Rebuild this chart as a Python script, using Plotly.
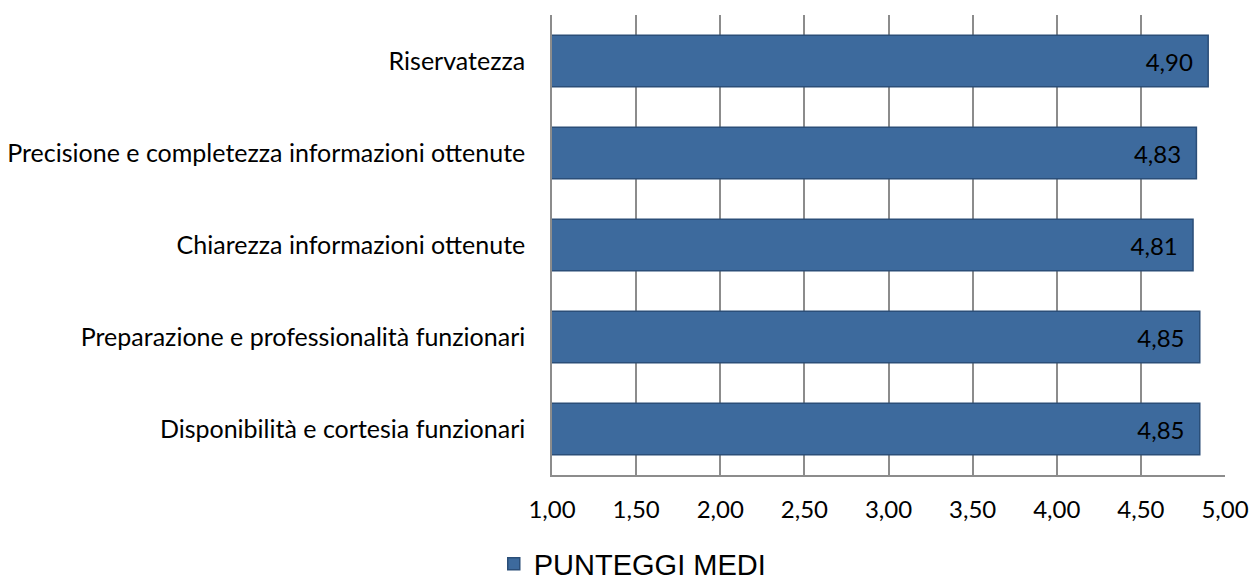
import plotly.graph_objects as go

categories = [
    "Riservatezza",
    "Precisione e completezza informazioni ottenute",
    "Chiarezza informazioni ottenute",
    "Preparazione e professionalità funzionari",
    "Disponibilità e cortesia funzionari",
]
values = [4.90, 4.83, 4.81, 4.85, 4.85]
series_name = "PUNTEGGI MEDI"

FONT = "Lato, Calibri, sans-serif"
PAD = "\u00a0" * 2

fig = go.Figure()
fig.add_trace(go.Bar(
    y=categories,
    x=values,
    orientation="h",
    name=series_name,
    marker=dict(color="#3D6A9D", line=dict(color="#2B4E78", width=1.5)),
    texttemplate="%{x:.2f}" + PAD,
    textposition="inside",
    insidetextanchor="end",
    textfont=dict(family=FONT, size=24, color="black"),
    cliponaxis=True,
))

fig.update_layout(
    width=1252, height=581,
    margin=dict(l=552, r=27, t=15, b=106, autoexpand=False),
    paper_bgcolor="white",
    plot_bgcolor="white",
    separators=",.",
    bargap=0.44,
    showlegend=True,
    legend=dict(
        orientation="h",
        x=0.12, xanchor="center",
        y=-0.193, yanchor="middle",
        font=dict(family="Liberation Sans, Arial, sans-serif", size=29, color="black"),
    ),
    xaxis=dict(
        range=[1, 5],
        dtick=0.5,
        tick0=1,
        tickformat=".2f",
        showgrid=True,
        gridcolor="#8C8C8C",
        gridwidth=1.5,
        showline=True,
        linecolor="#8C8C8C",
        linewidth=1.5,
        zeroline=False,
        ticks="",
        automargin=False,
        ticklabelstandoff=12,
        tickfont=dict(family=FONT, size=24, color="black"),
    ),
    yaxis=dict(
        autorange="reversed",
        showline=True,
        linecolor="#8C8C8C",
        linewidth=1.5,
        showgrid=False,
        ticks="",
        automargin=False,
        ticklabelstandoff=20,
        tickfont=dict(family=FONT, size=25, color="black"),
    ),
)

fig.write_html(
    "out.html",
    config={"displayModeBar": False},
    post_script="document.body.style.margin='0';document.body.style.overflow='hidden';",
)
